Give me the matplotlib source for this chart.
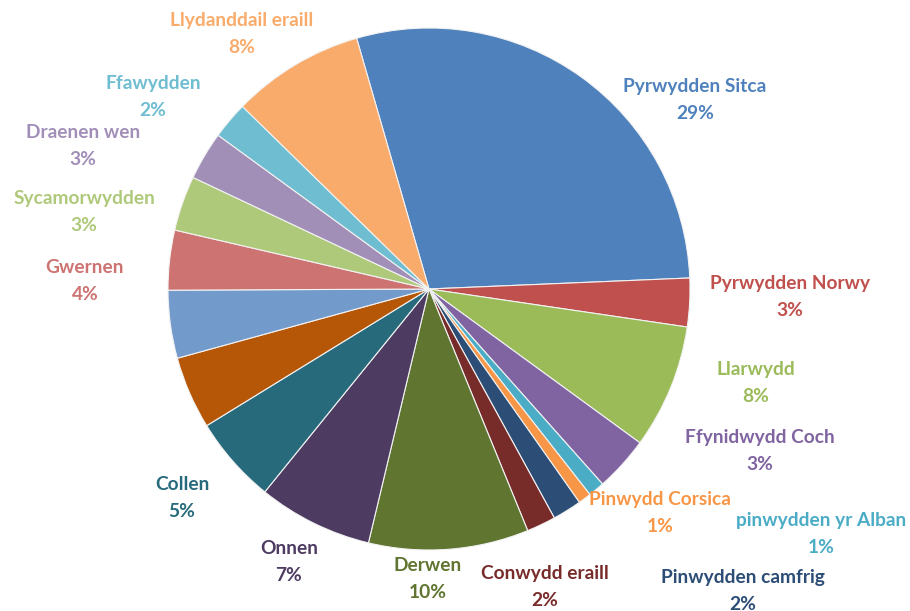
import matplotlib
matplotlib.use("Agg")
import matplotlib.pyplot as plt

# categories, clockwise from the top-left edge of the first slice
species = ["Pyrwydden Sitca", "Pyrwydden Norwy", "Llarwydd", "Ffynidwydd Coch",
           "pinwydden yr Alban", "Pinwydd Corsica", "Pinwydden camfrig",
           "Conwydd eraill", "Derwen", "Onnen", "Collen", "", "",
           "Gwernen", "Sycamorwydden", "Draenen wen", "Ffawydden",
           "Llydanddail eraill"]
share = [28.8, 3.0, 7.7, 3.4, 1.0, 0.8, 1.8, 1.8, 9.9, 7.1, 5.4, 4.5, 4.2,
         3.7, 3.4, 3.0, 2.3, 8.2]

# Excel 2010 palette: 6 base colours, then darker, then lighter
colors = ["#4F81BD", "#C0504D", "#9BBB59", "#8064A2", "#4BACC6", "#F79646",
          "#2C4D75", "#772C2A", "#5F7530", "#4D3B62", "#276A7C", "#B65708",
          "#729ACA", "#CD7371", "#AFC97A", "#A18FB8", "#6FBDD1", "#F9AB6B"]

# label centres in pixels (x, y from top)
label_px = [(695, 100), (790, 297), (756, 383), (760, 451), (821, 534),
            (660, 513), (743, 591), (545, 587), (428, 579), (289, 562),
            (182, 498), None, None, (85, 281), (84, 212), (83, 146),
            (153, 97), (242, 34)]

W, H = 910, 611
cx, cy, r = 429, 289, 261

fig = plt.figure(figsize=(W / 100, H / 100), dpi=100)
ax = fig.add_axes([(cx - r) / W, (H - cy - r) / H, 2 * r / W, 2 * r / H])

ax.pie(share, colors=colors, startangle=106.1, counterclock=False, radius=1,
       wedgeprops=dict(edgecolor="#F2F2F2", linewidth=0.8))
ax.set_xlim(-1, 1)
ax.set_ylim(-1, 1)
ax.set_aspect("equal")
ax.axis("off")

for name, v, c, pos in zip(species, share, colors, label_px):
    if pos is None:
        continue
    x = (pos[0] - cx) / r
    y = (cy - pos[1]) / r
    ax.text(x, y, f"{name}\n{v:.0f}%", ha="center", va="center", color=c,
            fontsize=13.8, fontweight="bold", family="Lato", linespacing=1.76,
            clip_on=False)

fig.savefig("out.png", dpi=100)
